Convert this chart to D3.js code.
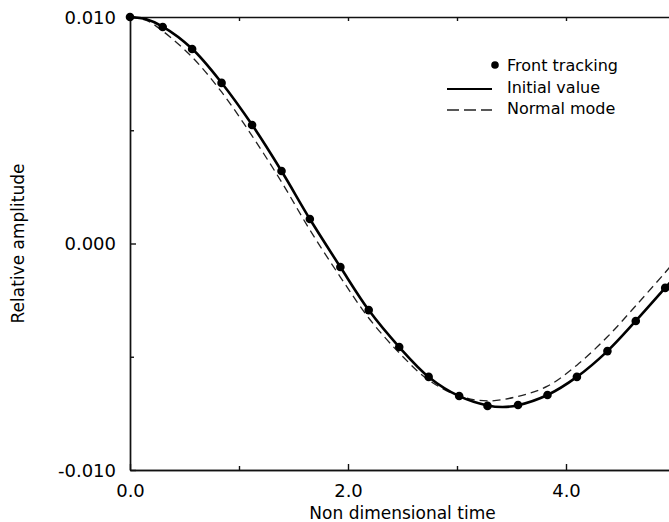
<!DOCTYPE html>
<html>
<head>
<meta charset="utf-8">
<script src="https://cdn.jsdelivr.net/npm/d3@7"></script>
<style>
  html, body { margin: 0; padding: 0; background: #fff; }
  text { font-family: "DejaVu Sans", sans-serif; fill: #000; }
</style>
</head>
<body>
<div id="vis"></div>
<script>
const width = 669;
const height = 522;

// Front tracking (dots)
const frontT = [0, 0.30, 0.57, 0.84, 1.12, 1.39, 1.65, 1.93, 2.19, 2.47, 2.74, 3.02, 3.28, 3.56, 3.83, 4.10, 4.38, 4.64, 4.91];
const frontV = [0.0100, 0.00956, 0.00859, 0.00709, 0.00523, 0.00320, 0.00108, -0.00104, -0.00294, -0.00457, -0.00589,
                -0.00673, -0.00717, -0.00713, -0.00669, -0.00589, -0.00475, -0.00342, -0.00196];

// Initial value (solid line)
const initialT = [0, 0.15, 0.30, 0.57, 0.84, 1.12, 1.39, 1.65, 1.93, 2.19, 2.47, 2.74, 3.02, 3.28, 3.42, 3.56, 3.83, 4.10, 4.38, 4.64, 4.91, 5.0];
const initialV = [0.0100, 0.00990, 0.00958, 0.00860, 0.00710, 0.00524, 0.00320, 0.00108, -0.00104, -0.00294, -0.00457,
                  -0.00589, -0.00674, -0.00715, -0.00722, -0.00714, -0.00669, -0.00589, -0.00475, -0.00342, -0.00196, -0.00147];

// Normal mode (dashed line)
const normalT = [0, 0.15, 0.30, 0.57, 0.84, 1.12, 1.39, 1.65, 1.93, 2.19, 2.47, 2.74, 3.02, 3.28, 3.56, 3.83, 4.10, 4.38, 4.64, 4.91, 5.0];
const normalV = [0.0100, 0.00985, 0.00938, 0.00823, 0.00669, 0.00475, 0.00272, 0.00060, -0.00148, -0.00329, -0.00483,
                 -0.00603, -0.00673, -0.00695, -0.00675, -0.00630, -0.00537, -0.00412, -0.00275, -0.00128, -0.00078];

// Axis ticks
const xMajor = [0, 2, 4];
const xMinor = [1, 3];
const yMajor = [-0.010, 0.000, 0.010];
const yMinor = [-0.005, 0.005];

const legendItems = ["Front tracking", "Initial value", "Normal mode"];

const margin = { left: 130, right: 675, top: 17, bottom: 470 };

const x = d3.scaleLinear().domain([0, 5]).range([margin.left, margin.right]);
const y = d3.scaleLinear().domain([-0.010, 0.010]).range([margin.bottom, margin.top]);

const svg = d3.select("#vis")
    .append("svg")
    .attr("width", width)
    .attr("height", height);

// Axes
const fmtY = d => d3.format(".3f")(d).replace("\u2212", "-");

const bottomAxis = svg.append("g")
    .attr("transform", `translate(0,${margin.bottom})`)
    .call(d3.axisBottom(x).tickValues(xMajor).tickSize(-6).tickSizeOuter(0)
        .tickPadding(14).tickFormat(d3.format(".1f")));

svg.append("g")
    .attr("transform", `translate(0,${margin.bottom})`)
    .call(d3.axisBottom(x).tickValues(xMinor).tickSize(-4).tickSizeOuter(0).tickFormat(""));

const leftAxis = svg.append("g")
    .attr("transform", `translate(${margin.left},0)`)
    .call(d3.axisLeft(y).tickValues(yMajor).tickSize(-6).tickSizeOuter(0)
        .tickPadding(14).tickFormat(fmtY));

svg.append("g")
    .attr("transform", `translate(${margin.left},0)`)
    .call(d3.axisLeft(y).tickValues(yMinor).tickSize(-4).tickSizeOuter(0).tickFormat(""));

// top frame line
svg.append("g")
    .attr("transform", `translate(0,${margin.top})`)
    .call(d3.axisTop(x).tickValues([1, 2, 3, 4]).tickSize(-4).tickSizeOuter(0).tickFormat(""));

svg.selectAll(".domain, .tick line")
    .attr("stroke", "#111")
    .attr("stroke-width", 1.4);

bottomAxis.selectAll("text").style("font-size", "18px").style("font-family", "DejaVu Sans");
leftAxis.selectAll("text").style("font-size", "18px").style("font-family", "DejaVu Sans").attr("dy", "0.36em");

// axis titles
svg.append("text")
    .attr("x", (margin.left + margin.right) / 2)
    .attr("y", 519)
    .attr("text-anchor", "middle")
    .style("font-size", "17px")
    .text("Non dimensional time");

svg.append("text")
    .attr("transform", `translate(24,${(margin.top + margin.bottom) / 2}) rotate(-90)`)
    .attr("text-anchor", "middle")
    .style("font-size", "17px")
    .text("Relative amplitude");

// Lines
const line = d3.line()
    .x(d => x(d[0]))
    .y(d => y(d[1]))
    .curve(d3.curveCatmullRom.alpha(0.5));

svg.append("path")
    .datum(normalT.map((t, i) => [t, normalV[i]]))
    .attr("d", line)
    .attr("fill", "none")
    .attr("stroke", "#222")
    .attr("stroke-width", 1.3)
    .attr("stroke-dasharray", "8,5");

svg.append("path")
    .datum(initialT.map((t, i) => [t, initialV[i]]))
    .attr("d", line)
    .attr("fill", "none")
    .attr("stroke", "#000")
    .attr("stroke-width", 2.6);

svg.append("g")
    .selectAll("circle")
    .data(frontT.map((t, i) => [t, frontV[i]]))
    .enter().append("circle")
    .attr("cx", d => x(d[0]))
    .attr("cy", d => y(d[1]))
    .attr("r", 4.3)
    .attr("fill", "#000");

// Legend
const legend = svg.append("g");
const rowY = [65, 87, 108];

legend.append("circle")
    .attr("cx", 495).attr("cy", rowY[0]).attr("r", 3.8).attr("fill", "#000");
legend.append("line")
    .attr("x1", 447).attr("x2", 492).attr("y1", rowY[1] + 2).attr("y2", rowY[1] + 2)
    .attr("stroke", "#000").attr("stroke-width", 2.2);
legend.append("line")
    .attr("x1", 447).attr("x2", 492).attr("y1", rowY[2] + 2).attr("y2", rowY[2] + 2)
    .attr("stroke", "#222").attr("stroke-width", 1.3).attr("stroke-dasharray", "12,5");

legend.selectAll("text.leg")
    .data(legendItems)
    .enter().append("text")
    .attr("class", "leg")
    .attr("x", 507)
    .attr("y", (d, i) => rowY[i])
    .attr("dy", "0.36em")
    .style("font-size", "16px")
    .text(d => d);
</script>
</body>
</html>
